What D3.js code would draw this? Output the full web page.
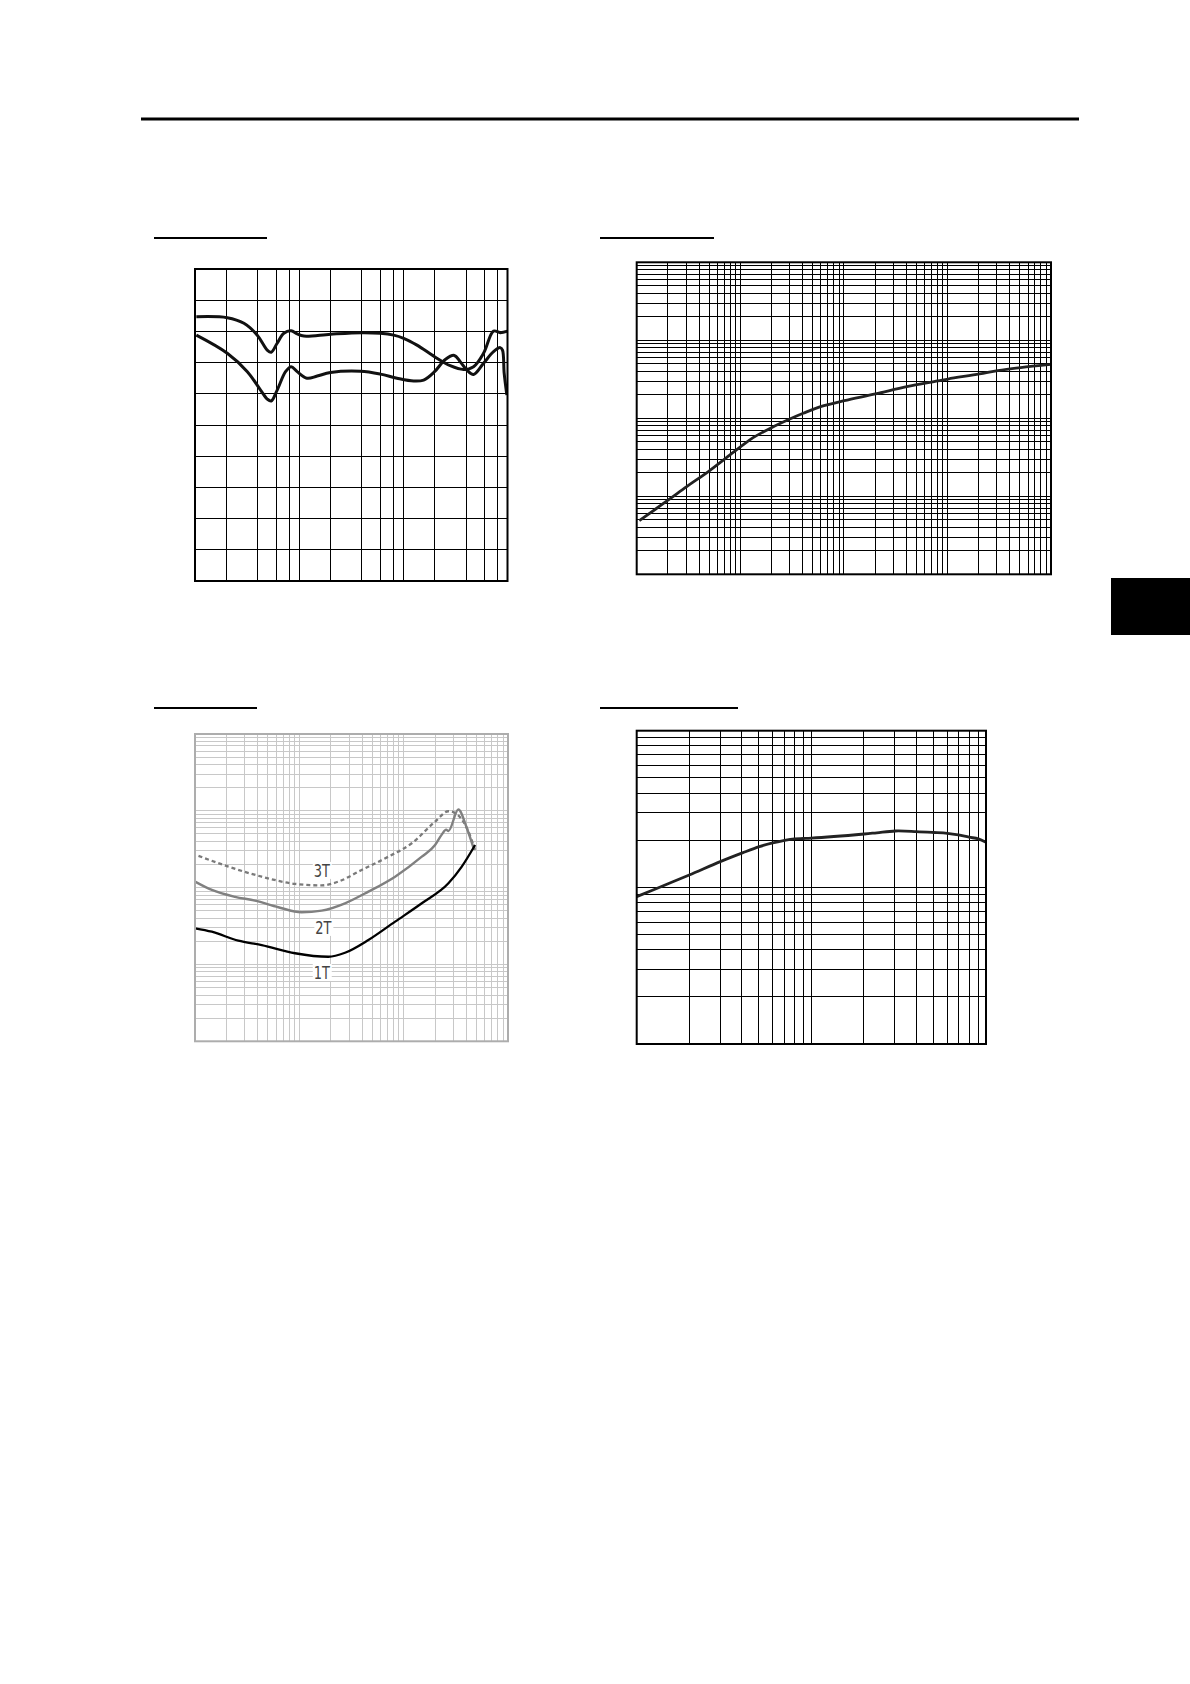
<!DOCTYPE html>
<html>
<head>
<meta charset="utf-8">
<script src="https://cdn.jsdelivr.net/npm/d3@7/dist/d3.min.js"></script>
<style>
  html, body { margin: 0; padding: 0; background: #fff; }
  svg { display: block; }
</style>
</head>
<body>
<svg id="page" width="1190" height="1684"></svg>
<script>
// ---------------- DATA ----------------
// Chart 1 (top-left): log frequency x (gridlines at 1,2,4,6,8 per decade), linear y in 10 divisions
const c1XDecades = [10, 100, 1000];
const c1XMultipliers = [1, 2, 4, 6, 8];
const c1YTicks = [0, 10, 20, 30, 40, 50, 60, 70, 80, 90, 100];
const c1CurveA = [
  [10.3, 84.7], [20.4, 84.4], [29.5, 82.6], [39.6, 78.8], [49.4, 74.0], [53.9, 73.3],
  [61.5, 76.2], [71.3, 79.4], [83.8, 80.2], [95.7, 79.2], [111, 78.5], [200, 79.1],
  [399, 79.6], [602, 79.4], [808, 78.8], [1007, 77.8], [1352, 75.6], [1995, 71.9],
  [2820, 69.0], [3787, 67.8], [4723, 68.7], [5888, 73.0], [7345, 80.1], [8511, 79.6],
  [10000, 80.1]
];
const c1CurveB = [
  [10.3, 78.8], [20.4, 73.0], [31.8, 67.1], [42.6, 61.2], [49.4, 58.3], [53.9, 57.7],
  [61.5, 61.2], [74, 67.1], [83.8, 68.7], [95.7, 67.1], [119, 65.0], [149, 65.7],
  [200, 66.8], [387, 67.2], [602, 66.3], [869, 65.0], [1256, 64.1], [1566, 64.4],
  [1995, 67.1], [2528, 71.0], [3083, 72.3], [3516, 70.3], [4074, 67.6], [4723, 66.2],
  [5888, 69.8], [7345, 73.5], [8511, 74.8], [8954, 74.0], [9290, 66.6], [9857, 59.6]
];

// Chart 2 (top-right): log-log, 4 x 4 decades
const c2XDomain = [1, 10000];
const c2YDomain = [0.01, 100];
const c2Curve = [
  [1.06, 0.0488], [2.02, 0.0897], [3.04, 0.133], [4.99, 0.211], [7.95, 0.339],
  [10.1, 0.433], [13.3, 0.565], [20.0, 0.759], [30.1, 0.98], [40.5, 1.16],
  [59.6, 1.41], [101, 1.68], [202, 2.05], [405, 2.55], [807, 3.01], [1014, 3.19],
  [2035, 3.70], [3060, 4.08], [5100, 4.47], [9930, 4.92]
];

// Chart 3 (bottom-left): log-log, 3 x 4 decades, three series
const c3XDomain = [10, 10000];
const c3YDomain = [0.1, 1000];
const c3Labels = ["3T", "2T", "1T"];
const c3Series3T = [
  [10.8, 25.9], [20.9, 18.8], [43.6, 13.9], [90.9, 11.2], [164, 10.7], [237, 12.0],
  [396, 17.0], [713, 25.3], [1196, 37.8], [2000, 72.3], [2685, 98.8], [3110, 93.9],
  [4027, 59.8], [4838, 31.0]
];
const c3Series2T = [
  [10, 12.0], [14.5, 9.33], [24.2, 7.60], [37.6, 6.77], [62.9, 5.56], [105, 4.78],
  [164, 5.02], [274, 6.26], [459, 8.87], [828, 13.9], [1492, 25.3], [2000, 35.9],
  [2317, 49.0], [2552, 56.9], [2685, 54.7], [3342, 104], [4027, 59.8], [4731, 31.2]
];
const c3Series1T = [
  [10, 2.96], [14.5, 2.67], [26.0, 2.04], [43.6, 1.79], [90.9, 1.40], [190, 1.26],
  [274, 1.42], [459, 2.08], [828, 3.61], [1492, 6.26], [2685, 11.4], [3606, 18.8],
  [4838, 35.9]
];
const c3LabelPoints = [[164, 13.8], [170, 2.5], [164, 0.648]];

// Chart 4 (bottom-right): log-log, 2 x 2 decades
const c4XDomain = [10, 1000];
const c4YDomain = [1, 100];
const c4Curve = [
  [10, 8.72], [14.2, 10.25], [20.0, 12.0], [30.1, 14.6], [40.3, 16.6], [50.4, 18.2],
  [60.1, 19.2], [70.3, 19.95], [80.0, 20.4], [90, 20.5], [100, 20.6], [201, 21.9],
  [237, 22.3], [303, 22.9], [399, 22.7], [499, 22.4], [601, 22.1], [695, 21.6],
  [800, 20.9], [904, 20.4], [1000, 19.4]
];

// ---------------- DRAWING ----------------
const svg = d3.select("#page");

// page header rule
svg.append("line").attr("x1", 141).attr("x2", 1079).attr("y1", 119).attr("y2", 119)
  .attr("stroke", "#000").attr("stroke-width", 3);
// side tab
svg.append("rect").attr("x", 1111).attr("y", 578).attr("width", 79).attr("height", 57).attr("fill", "#000");

// title rules (titles themselves are blank in the reference)
const titleRules = [[154, 267, 238], [600, 714, 238], [154, 257, 708], [600, 738, 708]];
titleRules.forEach(([a, b, y]) => {
  svg.append("line").attr("x1", a).attr("x2", b).attr("y1", y).attr("y2", y)
    .attr("stroke", "#000").attr("stroke-width", 2);
});

let clipId = 0;
function panel(o) {
  const g = svg.append("g");
  const [x0, x1] = o.x.range();
  const [y1, y0] = o.y.range();
  const id = "clip" + (clipId++);
  g.append("clipPath").attr("id", id).append("rect")
    .attr("x", x0).attr("y", y0).attr("width", x1 - x0).attr("height", y1 - y0);
  const grid = g.append("g").attr("stroke", o.gridColor).attr("stroke-width", o.gridWidth)
    .attr("shape-rendering", "crispEdges");
  grid.selectAll(".vx").data(o.xTicks).join("line")
    .attr("x1", d => o.x(d)).attr("x2", d => o.x(d)).attr("y1", y0).attr("y2", y1);
  grid.selectAll(".hy").data(o.yTicks).join("line")
    .attr("y1", d => o.y(d)).attr("y2", d => o.y(d)).attr("x1", x0).attr("x2", x1);
  const plot = g.append("g").attr("clip-path", `url(#${id})`);
  g.append("rect").attr("x", x0).attr("y", y0).attr("width", x1 - x0).attr("height", y1 - y0)
    .attr("fill", "none").attr("stroke", o.frameColor).attr("stroke-width", o.frameWidth);
  return {g, plot};
}

function lineGen(x, y, curve) {
  return d3.line().x(d => x(d[0])).y(d => y(d[1])).curve(curve || d3.curveCatmullRom.alpha(0.5));
}

// ---- Chart 1 ----
{
  const x = d3.scaleLog().domain([10, 10000]).range([195, 507.5]);
  const y = d3.scaleLinear().domain([0, 100]).range([581, 269]);
  const xTicks = c1XDecades.flatMap(d => c1XMultipliers.map(m => m * d)).concat([10000]);
  const {plot} = panel({x, y, xTicks, yTicks: c1YTicks, gridColor: "#000", gridWidth: 1,
    frameColor: "#000", frameWidth: 2});
  const lg = lineGen(x, y);
  [c1CurveA, c1CurveB].forEach(s => {
    plot.append("path").attr("d", lg(s)).attr("fill", "none").attr("stroke", "#111")
      .attr("stroke-width", 3).attr("stroke-linejoin", "round");
  });
}

// ---- Chart 2 ----
{
  const x = d3.scaleLog().domain(c2XDomain).range([636.7, 1051]);
  const y = d3.scaleLog().domain(c2YDomain).range([574.3, 262.3]);
  const {plot} = panel({x, y, xTicks: x.ticks(), yTicks: y.ticks(), gridColor: "#000", gridWidth: 1,
    frameColor: "#000", frameWidth: 2});
  plot.append("path").attr("d", lineGen(x, y)(c2Curve)).attr("fill", "none")
    .attr("stroke", "#222").attr("stroke-width", 2.8);
}

// ---- Chart 3 ----
{
  const x = d3.scaleLog().domain(c3XDomain).range([195, 508]);
  const y = d3.scaleLog().domain(c3YDomain).range([1041.3, 734]);
  const {plot, g} = panel({x, y, xTicks: x.ticks(), yTicks: y.ticks(), gridColor: "#c8c8c8", gridWidth: 1,
    frameColor: "#adadad", frameWidth: 2});
  const lg = lineGen(x, y, d3.curveMonotoneX);
  plot.append("path").attr("d", lg(c3Series3T)).attr("fill", "none")
    .attr("stroke", "#7a7a7a").attr("stroke-width", 2.3).attr("stroke-dasharray", "4,3");
  plot.append("path").attr("d", lg(c3Series2T)).attr("fill", "none")
    .attr("stroke", "#808080").attr("stroke-width", 2.4).attr("stroke-linejoin", "round");
  plot.append("path").attr("d", lg(c3Series1T)).attr("fill", "none")
    .attr("stroke", "#000").attr("stroke-width", 2.3);
  c3Labels.forEach((t, i) => {
    const px = x(c3LabelPoints[i][0]), py = y(c3LabelPoints[i][1]);
    g.append("rect").attr("x", px - 9).attr("y", py - 15).attr("width", 19).attr("height", 17)
      .attr("fill", "#fff");
    g.append("text").attr("x", px).attr("y", py).attr("text-anchor", "middle")
      .attr("font-family", "'Liberation Sans Narrow', 'DejaVu Sans Condensed', sans-serif")
      .attr("font-size", 18).attr("fill", "#444")
      .attr("transform", `translate(${px},0) scale(0.8,1) translate(${-px},0)`)
      .text(t);
  });
}

// ---- Chart 4 ----
{
  const x = d3.scaleLog().domain(c4XDomain).range([636.7, 986]);
  const y = d3.scaleLog().domain(c4YDomain).range([1044, 730.7]);
  const {plot} = panel({x, y, xTicks: x.ticks(), yTicks: y.ticks(), gridColor: "#000", gridWidth: 1,
    frameColor: "#000", frameWidth: 2});
  plot.append("path").attr("d", lineGen(x, y)(c4Curve)).attr("fill", "none")
    .attr("stroke", "#222").attr("stroke-width", 2.8);
}
</script>
</body>
</html>
